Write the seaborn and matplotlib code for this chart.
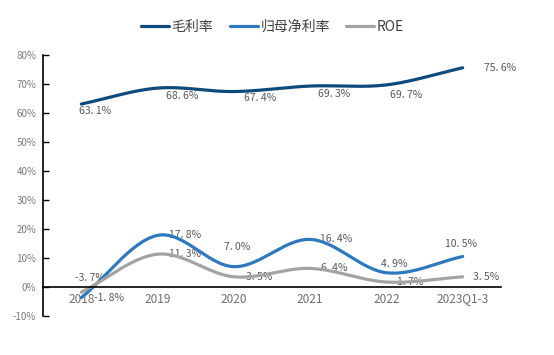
import numpy as np
import pandas as pd
import matplotlib

matplotlib.use('Agg')
import matplotlib.pyplot as plt
import seaborn as sns

categories = ['2018', '2019', '2020', '2021', '2022', '2023Q1-3']
gross_margin = [63.1, 68.6, 67.4, 69.3, 69.7, 75.6]
net_margin = [-3.7, 17.8, 7.0, 16.4, 4.9, 10.5]
roe = [-1.8, 11.3, 3.5, 6.4, 1.7, 3.5]

series_names = ['毛利率', '归母净利率', 'ROE']
colors = ['#0e4a7b', '#2e78bd', '#a3a3a3']

# label offsets in points (dx, dy) for each series / point
offsets = [
    [(10, -5), (18, -6), (19, -5), (17, -6), (14, -7), (27, 0)],
    [(6, 14), (20, 0), (2, 14), (19, 0), (6, 6), (-1, 9)],
    [(20, -4), (20, 0), (18, 0), (17, 0), (17, 0), (17, 0)],
]


def smooth(y, steps=30):
    # Catmull-Rom curve through the points (like Excel smoothed line)
    x = np.arange(len(y), dtype=float)
    p = np.array(y, dtype=float)
    xs, ys = [], []
    for i in range(len(p) - 1):
        p0 = p[i - 1] if i > 0 else 2 * p[i] - p[i + 1]
        p3 = p[i + 2] if i + 2 < len(p) else 2 * p[i + 1] - p[i]
        p1, p2 = p[i], p[i + 1]
        t = np.linspace(0, 1, steps, endpoint=False)
        yy = 0.5 * ((2 * p1) + (-p0 + p2) * t + (2 * p0 - 5 * p1 + 4 * p2 - p3) * t ** 2
                    + (-p0 + 3 * p1 - 3 * p2 + p3) * t ** 3)
        xs.extend(x[i] + t)
        ys.extend(yy)
    xs.append(x[-1])
    ys.append(p[-1])
    return np.array(xs), np.array(ys)


sns.set_style('white')
plt.rcParams['font.family'] = ['Noto Sans CJK SC', 'DejaVu Sans']

fig = plt.figure(figsize=(5.54, 3.55), dpi=100)
ax = fig.add_axes([0.078, 0.110, 0.826, 0.735])

frames = []
for name, vals in zip(series_names, [gross_margin, net_margin, roe]):
    xs, ys = smooth(vals)
    frames.append(pd.DataFrame({'x': xs, 'y': ys, 'series': name}))
df = pd.concat(frames)

sns.lineplot(data=df, x='x', y='y', hue='series', palette=colors,
             hue_order=series_names, linewidth=2.3, ax=ax, sort=False, legend=False)

for vals, offs in zip([gross_margin, net_margin, roe], offsets):
    for i, v in enumerate(vals):
        ax.annotate(f'{v:.1f}%'.replace('.', '. '), (i, v), xytext=offs[i],
                    textcoords='offset points', ha='center', va='center',
                    fontsize=7.5, color='#595959', zorder=1)

ax.set_xlim(-0.5, 5.5)
ax.set_ylim(-10, 80)
ax.set_yticks(range(-10, 81, 10))
ax.set_yticklabels([f'{t}%' for t in range(-10, 81, 10)])
ax.set_xticks(range(len(categories)))
ax.set_xticklabels(categories)
ax.set_xticks(np.arange(0.5, 5.6, 1), minor=True)
ax.tick_params(axis='x', which='major', length=0, pad=4, labelsize=8.5, labelcolor='#6e6e6e')
ax.tick_params(axis='x', which='minor', direction='in', length=4, width=1, color='black')
ax.tick_params(axis='y', direction='in', length=4, width=1, color='black', left=True, pad=5,
               labelsize=7, labelcolor='#7a7a7a')
ax.set_xlabel('')
ax.set_ylabel('')

for s in ['top', 'right']:
    ax.spines[s].set_visible(False)
ax.spines['bottom'].set_position(('data', 0))
for s in ['left', 'bottom']:
    ax.spines[s].set_color('black')
    ax.spines[s].set_linewidth(1.2)

handles = [plt.Line2D([], [], color=c, linewidth=2.3) for c in colors]
fig.legend(handles, series_names, loc='center', bbox_to_anchor=(0.492, 0.924), ncol=3,
           frameon=False, fontsize=10, handlelength=2.0, handletextpad=0.2,
           columnspacing=1.2, labelcolor='#404040')

plt.savefig('out.png', dpi=100)
